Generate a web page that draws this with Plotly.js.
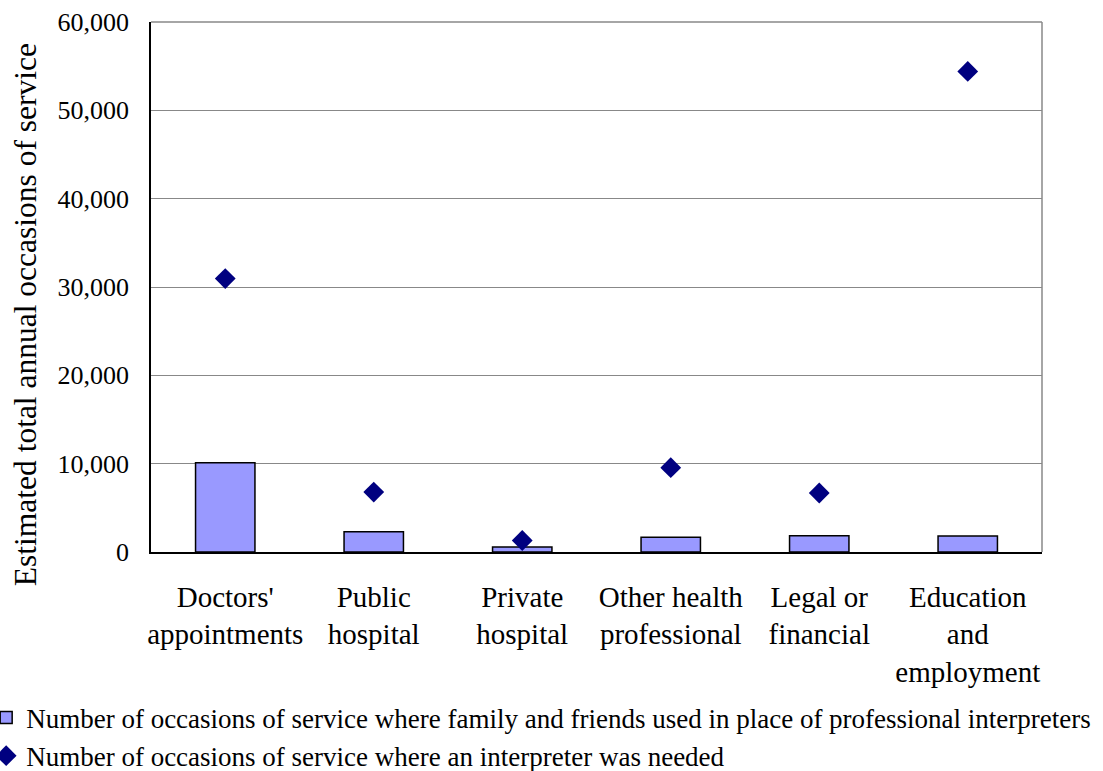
<!DOCTYPE html>
<html>
<head>
<meta charset="utf-8">
<script src="https://cdn.plot.ly/plotly-3.0.1.min.js"></script>
<style>html,body{margin:0;padding:0;background:#fff;}#chart{width:1103px;height:771px;}</style>
</head>
<body>
<div id="chart"></div>
<script>
const categories = ["Doctors' appointments", "Public hospital", "Private hospital", "Other health professional", "Legal or financial", "Education and employment"];
const tickLabels = ["Doctors'<br>appointments", "Public<br>hospital", "Private<br>hospital", "Other health<br>professional", "Legal or<br>financial", "Education<br>and<br>employment"];
const familyFriends = [10100, 2290, 560, 1680, 1830, 1800];
const interpreterNeeded = [30950, 6780, 1300, 9550, 6680, 54400];
const tickVals = [0, 10000, 20000, 30000, 40000, 50000, 60000];

const serif = "'Liberation Serif', 'Times New Roman', serif";

const traces = [
  {
    type: 'bar',
    x: categories,
    y: familyFriends,
    name: 'Number of occasions of service where family and friends used in place of professional interpreters',
    marker: {color: '#9999FF', line: {color: '#000000', width: 1.5}},
    legendgroup: 'a',
    hoverinfo: 'x+y'
  },
  {
    type: 'scatter',
    mode: 'markers',
    x: categories,
    y: interpreterNeeded,
    name: 'Number of occasions of service where an interpreter was needed',
    marker: {symbol: 'diamond', size: 16, color: '#000080'},
    legendgroup: 'b',
    hoverinfo: 'x+y'
  }
];

const layout = {
  width: 1103,
  height: 771,
  margin: {l: 151, r: 61, t: 22, b: 219, autoexpand: false},
  paper_bgcolor: '#ffffff',
  plot_bgcolor: '#ffffff',
  font: {family: serif, color: '#000000', size: 26},
  bargap: 0.6,
  showlegend: true,
  legend: {
    orientation: 'v',
    x: -0.185, xanchor: 'left',
    y: -0.267, yanchor: 'top',
    font: {family: serif, size: 27, color: '#000000'},
    bgcolor: 'rgba(0,0,0,0)',
    tracegroupgap: 5,
    traceorder: 'normal'
  },
  xaxis: {
    type: 'category',
    tickmode: 'array',
    tickvals: categories,
    ticktext: tickLabels,
    showgrid: false,
    showline: true,
    linecolor: '#000000',
    linewidth: 1.5,
    ticks: '',
    ticklabelstandoff: 18,
    tickfont: {family: serif, size: 29, color: '#000000'},
    tickangle: 0,
    automargin: false,
    zeroline: false,
    fixedrange: true
  },
  yaxis: {
    range: [0, 60000],
    tickmode: 'array',
    tickvals: tickVals,
    tickformat: ',d',
    showgrid: true,
    gridcolor: '#888888',
    gridwidth: 1,
    showline: true,
    linecolor: '#000000',
    linewidth: 1.5,
    ticks: '',
    ticklabelstandoff: 15,
    tickfont: {family: serif, size: 26, color: '#000000'},
    zeroline: false,
    automargin: false,
    fixedrange: true
  },
  shapes: [
    {type: 'line', xref: 'paper', yref: 'paper', x0: 1, x1: 1, y0: 0, y1: 1, line: {color: '#888888', width: 1.5}, layer: 'below'},
    {type: 'line', xref: 'paper', yref: 'paper', x0: 0, x1: 1, y0: 1, y1: 1, line: {color: '#888888', width: 1.5}, layer: 'below'}
  ],
  annotations: [
    {
      text: 'Estimated total annual occasions of service',
      xref: 'paper', yref: 'paper',
      x: -0.1415, y: 0.4485,
      xanchor: 'center', yanchor: 'middle',
      textangle: -90,
      showarrow: false,
      font: {family: serif, size: 31.5, color: '#000000'}
    }
  ]
};

Plotly.newPlot('chart', traces, layout, {displayModeBar: false, staticPlot: false});
</script>
</body>
</html>
